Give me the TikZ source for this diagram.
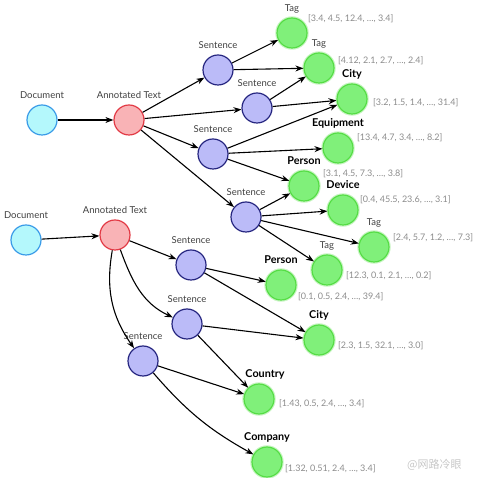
\documentclass[tikz,border=0pt]{standalone}
\usepackage{fontspec}
\setmainfont{Lato}
\newfontfamily\cjkfont{Noto Sans CJK SC}
\usetikzlibrary{arrows.meta}
\definecolor{docfill}{HTML}{B4F8FC}
\definecolor{docdraw}{HTML}{3A9BE8}
\definecolor{atfill}{HTML}{F9B3B6}
\definecolor{atdraw}{HTML}{E23A45}
\definecolor{sentfill}{HTML}{BBBBF8}
\definecolor{sentdraw}{HTML}{262680}
\definecolor{entfill}{HTML}{80F07A}
\definecolor{entdraw}{HTML}{55DD45}
\definecolor{labcol}{HTML}{404040}
\definecolor{valcol}{HTML}{8C8C8C}
\begin{document}
\begin{tikzpicture}[x=1pt,y=1pt,
  circ/.style={circle, minimum size=30pt, inner sep=0pt, line width=1.2pt},
  docn/.style={circ, fill=docfill, draw=docdraw},
  atn/.style={circ, fill=atfill, draw=atdraw},
  sentn/.style={circ, fill=sentfill, draw=sentdraw},
  entn/.style={circ, fill=entfill, draw=entdraw, preaction={draw=entdraw, draw opacity=0.3, line width=3.5pt}},
  lab/.style={font=\fontsize{9.5}{11}\selectfont, text=labcol, inner sep=2pt, text height=7pt, text depth=2pt},
  blab/.style={font=\bfseries\fontsize{10.8}{12}\selectfont, text=black, inner sep=2pt, text height=7.5pt, text depth=2pt},
  vals/.style={font=\fontsize{9}{11}\selectfont, text=valcol, anchor=west, inner sep=0pt, text height=7pt, text depth=2pt},
  arr/.style={-{Stealth[length=8pt,width=6pt]}, line width=1.1pt},
  label distance=2pt]
\useasboundingbox (0,0) rectangle (478,478);
% ---------- top graph ----------
\node[docn, label={[lab]above:Document}] (doc1) at (42,358) {};
\node[atn, label={[lab]above:Annotated Text}] (at1) at (129,358) {};
\node[sentn, label={[lab]above:Sentence}] (s1) at (218,408) {};
\node[sentn, label={[lab]above:Sentence}] (s2) at (257,370) {};
\node[sentn, label={[lab]above:Sentence}] (s3) at (213,324) {};
\node[sentn, label={[lab]above:Sentence}] (s4) at (246,261) {};
\node[entn, label={[lab]above:Tag}] (tag1) at (292,445) {};
\node[entn, label={[lab]above:Tag}] (tag2) at (319,410) {};
\node[entn, label={[blab]above:City}] (city1) at (352,379) {};
\node[entn, label={[blab]above:Equipment}] (equip) at (338,330) {};
\node[entn, label={[blab]above:Person}] (person1) at (304,292) {};
\node[entn, label={[blab]above:Device}] (device) at (343,268) {};
\node[entn, label={[lab]above:Tag}] (tag3) at (374,231) {};
\node[entn, label={[lab]above:Tag}] (tag4) at (327,208) {};
\node[vals] (v1) at (308,459) {[3.4, 4.5, 12.4, …, 3.4]};
\node[vals] (v2) at (338,417) {[4.12, 2.1, 2.7, …, 2.4]};
\node[vals] (v3) at (373,375) {[3.2, 1.5, 1.4, …, 31.4]};
\node[vals] (v4) at (357,340) {[13.4, 4.7, 3.4, …, 8.2]};
\node[vals] (v5) at (323,304) {[3.1, 4.5, 7.3, …, 3.8]};
\node[vals] (v6) at (360,278) {[0.4, 45.5, 23.6, …, 3.1]};
\node[vals] (v7) at (393,240) {[2.4, 5.7, 1.2, …, 7.3]};
\node[vals] (v8) at (346,202) {[12.3, 0.1, 2.1, …, 0.2]};
\draw[arr] (doc1) -- (at1);
\draw[arr] (at1) -- (s1);
\draw[arr] (at1) -- (s2);
\draw[arr] (at1) -- (s3);
\draw[arr] (at1) -- (s4);
\draw[arr] (s1) -- (tag1);
\draw[arr] (s1) -- (tag2);
\draw[arr] (s2) -- (tag2);
\draw[arr] (s2) -- (city1);
\draw[arr] (s3) -- (city1);
\draw[arr] (s3) -- (equip);
\draw[arr] (s3) -- (person1);
\draw[arr] (s4) -- (person1);
\draw[arr] (s4) -- (device);
\draw[arr] (s4) -- (tag3);
\draw[arr] (s4) -- (tag4);
% ---------- bottom graph ----------
\node[docn, label={[lab]above:Document}] (doc2) at (26,238) {};
\node[atn, label={[lab]above:Annotated Text}] (at2) at (115,243) {};
\node[sentn, label={[lab]above:Sentence}] (s5) at (191,213) {};
\node[sentn, label={[lab]above:Sentence}] (s6) at (187,154) {};
\node[sentn, label={[lab]above:Sentence}] (s7) at (143,117) {};
\node[entn, label={[blab]above:Person}] (person2) at (281,193) {};
\node[entn, label={[blab]above:City}] (city2) at (319,138) {};
\node[entn, label={[blab,xshift=6pt]above:Country}] (country) at (259,79) {};
\node[entn, label={[blab]above:Company}] (company) at (267,16) {};
\node[vals] (v9) at (298,181) {[0.1, 0.5, 2.4, …, 39.4]};
\node[vals] (v10) at (338,132) {[2.3, 1.5, 32.1, …, 3.0]};
\node[vals] (v11) at (279,74) {[1.43, 0.5, 2.4, …, 3.4]};
\node[vals] (v12) at (285,9) {[1.32, 0.51, 2.4, …, 3.4]};
\draw[arr] (doc2) -- (at2);
\draw[arr] (at2) -- (s5);
\draw[arr] (at2) to[out=-70, in=155] (s6);
\draw[arr] (at2) to[out=-100, in=125] (s7);
\draw[arr] (s5) -- (person2);
\draw[arr] (s5) -- (city2);
\draw[arr] (s6) -- (city2);
\draw[arr] (s6) -- (country);
\draw[arr] (s7) -- (country);
\draw[arr] (s7) to[bend right=10] (company);
% watermark
\node[anchor=west, inner sep=0pt, text=black!22, font=\cjkfont\fontsize{11}{12}\selectfont] (wm) at (407,13) {@网路冷眼};
\end{tikzpicture}
\end{document}
